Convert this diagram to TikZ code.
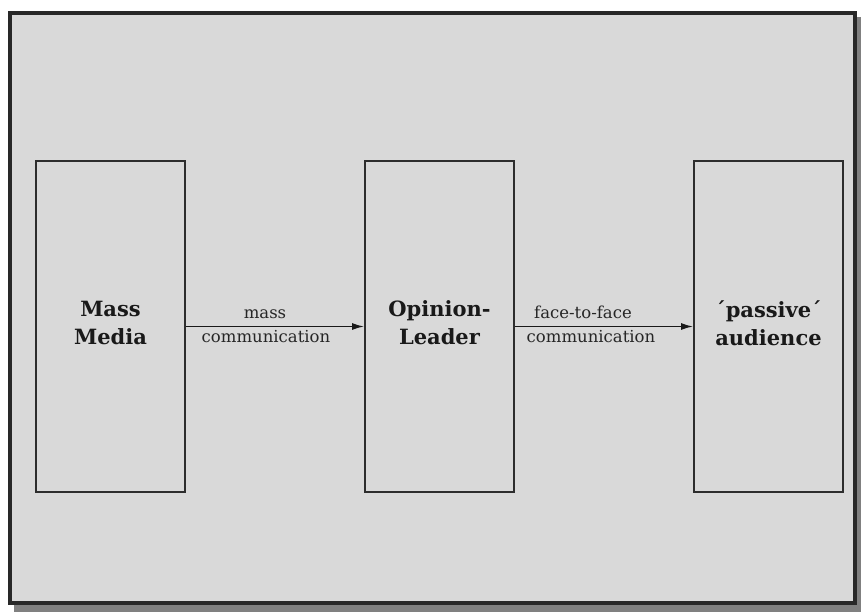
\documentclass[tikz,border=0pt]{standalone}
\usepackage{fontspec}
\setmainfont{DejaVu Serif}
\usetikzlibrary{arrows.meta}
\definecolor{bggray}{RGB}{217,217,217}
\definecolor{shadowgray}{RGB}{128,128,128}
\definecolor{framedark}{RGB}{40,40,40}
\definecolor{linedark}{RGB}{45,45,45}
\tikzset{
  stagebox/.style={draw=linedark, line width=1.8pt, minimum width=149pt, minimum height=331pt, inner sep=0pt},
  stagetext/.style={font=\fontsize{21}{28}\selectfont\bfseries, align=center, text=black!90},
  lbl/.style={font=\fontsize{16.5}{20}\selectfont, anchor=base, text=black!85, inner sep=0pt},
  arr/.style={draw=black!90, line width=1.5pt, -{Latex[length=12pt,width=7pt]}},
}
\begin{document}
\begin{tikzpicture}[x=1pt,y=-1pt]
\useasboundingbox (0,0) rectangle (861,612);
% shadow and frame
\fill[shadowgray] (14,17) rectangle (861,612);
\draw[framedark, line width=3.5pt, fill=bggray] (10,13) rectangle (855,603);
% boxes
\node[stagebox] (mm) at (110.5,326.5) {};
\node[stagebox] (ol) at (439.5,326.5) {};
\node[stagebox] (pa) at (768.5,326.5) {};
\node[stagetext] (mmt) at (110.5,323) {Mass\\Media};
\node[stagetext] (olt) at (439.5,323) {Opinion-\\Leader};
\node[stagetext] (pat) at (768.5,323) {´passive´\\audience};
% arrows
\draw[arr] (mm.east) -- (ol.west);
\draw[arr] (ol.east) -- (pa.west);
% labels
\node[lbl] (l1a) at (265,318) {mass};
\node[lbl] (l1b) at (266,342) {communication};
\node[lbl] (l2a) at (583,318) {face-to-face};
\node[lbl] (l2b) at (591,342) {communication};
\end{tikzpicture}
\end{document}
